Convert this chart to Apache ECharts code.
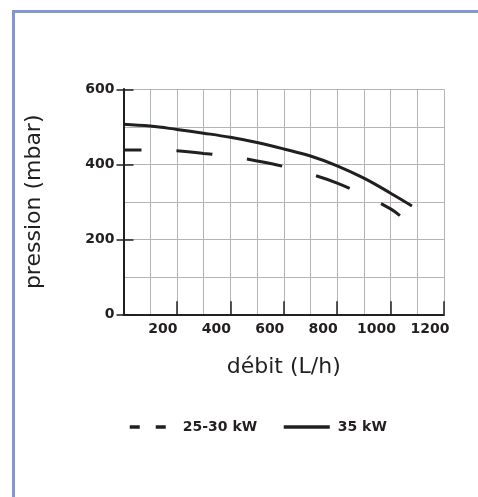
<!DOCTYPE html>
<html>
<head>
<meta charset="utf-8">
<script src="https://cdn.jsdelivr.net/npm/echarts@6/dist/echarts.min.js"></script>
<style>
html,body{margin:0;padding:0;background:#fff;}
#c{width:478px;height:497px;}
</style>
</head>
<body>
<div id="c"></div>
<script>
// ---- data ----
const seriesNames = ['25-30 kW', '35 kW'];
const flow2530 = [0, 100, 200, 300, 400, 500, 600, 700, 800, 900, 1000, 1035];
const pres2530 = [438, 438, 436, 429, 421, 409, 394, 374, 350, 318, 281, 263];
const flow35 = [0, 100, 200, 300, 400, 500, 600, 700, 800, 900, 1000, 1080];
const pres35 = [507, 502, 493, 483, 472, 458, 441, 422, 396, 363, 323, 289];
const xTickLabels = [200, 400, 600, 800, 1000, 1200];
const yTickLabels = [0, 200, 400, 600];
const xTitle = 'débit (L/h)';
const yTitle = 'pression (mbar)';

const ink = '#231f20';
const gridGrey = '#b4b4b4';
const font = 'DejaVu Sans';

function pairs(xs, ys) { return xs.map((x, i) => [x, ys[i]]); }

const chart = echarts.init(document.getElementById('c'), null, {renderer: 'canvas'});
chart.setOption({
  backgroundColor: '#ffffff',
  animation: false,
  graphic: [{
    type: 'polyline',
    shape: {points: [[13.5, 497], [13.5, 11.5], [478, 11.5]]},
    style: {stroke: '#8597d2', lineWidth: 3, fill: null}
  }],
  grid: {left: 123.5, right: 34, top: 89.3, bottom: 182.7, containLabel: false},
  legend: [{
    left: 128, top: 420, padding: 0,
    itemWidth: 37, itemHeight: 14,
    itemStyle: {opacity: 0},
    data: [{name: seriesNames[0], itemStyle: {opacity: 0}, lineStyle: {type: [10, 16], dashOffset: 0, width: 3.5}}],
    textStyle: {fontFamily: font, fontWeight: 'bold', fontSize: 14, color: ink, padding: [0, 0, 0, 11]}
  }, {
    left: 282, top: 420, padding: 0,
    itemWidth: 46, itemHeight: 14,
    itemStyle: {opacity: 0},
    data: [{name: seriesNames[1], itemStyle: {opacity: 0}, lineStyle: {type: 'solid', width: 3.5}}],
    textStyle: {fontFamily: font, fontWeight: 'bold', fontSize: 14, color: ink, padding: [0, 0, 0, 3]}
  }],
  xAxis: {
    type: 'value', min: 0, max: 1200, interval: 200,
    name: xTitle, nameLocation: 'middle', nameGap: 42,
    nameTextStyle: {fontFamily: font, fontSize: 22, color: ink},
    axisLine: {show: true, lineStyle: {color: ink, width: 2}},
    axisTick: {show: true, inside: true, length: 13, lineStyle: {color: ink, width: 1.5}},
    axisLabel: {
      fontFamily: font, fontWeight: 'bold', fontSize: 14, color: ink, margin: 8,
      padding: [0, 28, 0, 0],
      formatter: v => (xTickLabels.indexOf(v) >= 0 ? String(v) : '')
    },
    splitLine: {show: true, lineStyle: {color: gridGrey, width: 1}},
    minorTick: {show: false, splitNumber: 2},
    minorSplitLine: {show: true, lineStyle: {color: gridGrey, width: 1}}
  },
  yAxis: [{
    type: 'value', min: 0, max: 600, interval: 200, position: 'left',
    name: yTitle, nameLocation: 'middle', nameGap: 78, nameRotate: 90,
    nameTextStyle: {fontFamily: font, fontSize: 22, color: ink},
    axisLine: {show: true, lineStyle: {color: ink, width: 2}},
    axisTick: {show: true, inside: false, length: 7, lineStyle: {color: ink, width: 1.5}},
    axisLabel: {
      fontFamily: font, fontWeight: 'bold', fontSize: 14, color: ink, margin: 9,
      formatter: v => (yTickLabels.indexOf(v) >= 0 ? String(v) : '')
    },
    splitLine: {show: true, lineStyle: {color: gridGrey, width: 1}},
    minorTick: {show: false, splitNumber: 2},
    minorSplitLine: {show: true, lineStyle: {color: gridGrey, width: 1}}
  }, {
    type: 'value', min: 0, max: 600, interval: 200, position: 'left', offset: 0,
    axisLine: {show: true, lineStyle: {color: ink, width: 2}},
    axisTick: {show: true, inside: true, length: 10, lineStyle: {color: ink, width: 1.5}},
    axisLabel: {show: false},
    splitLine: {show: false}
  }],
  series: [{
    name: seriesNames[0], type: 'line', xAxisIndex: 0, yAxisIndex: 0,
    data: pairs(flow2530, pres2530), smooth: 0.4, symbol: 'none', showSymbol: false,
    lineStyle: {color: ink, width: 3, type: [36, 35], dashOffset: 18, cap: 'butt'},
    itemStyle: {color: ink}, z: 5
  }, {
    name: seriesNames[1], type: 'line', xAxisIndex: 0, yAxisIndex: 0,
    data: pairs(flow35, pres35), smooth: 0.4, symbol: 'none', showSymbol: false,
    lineStyle: {color: ink, width: 3, type: 'solid', cap: 'butt'},
    itemStyle: {color: ink}, z: 5
  }]
});
</script>
</body>
</html>
